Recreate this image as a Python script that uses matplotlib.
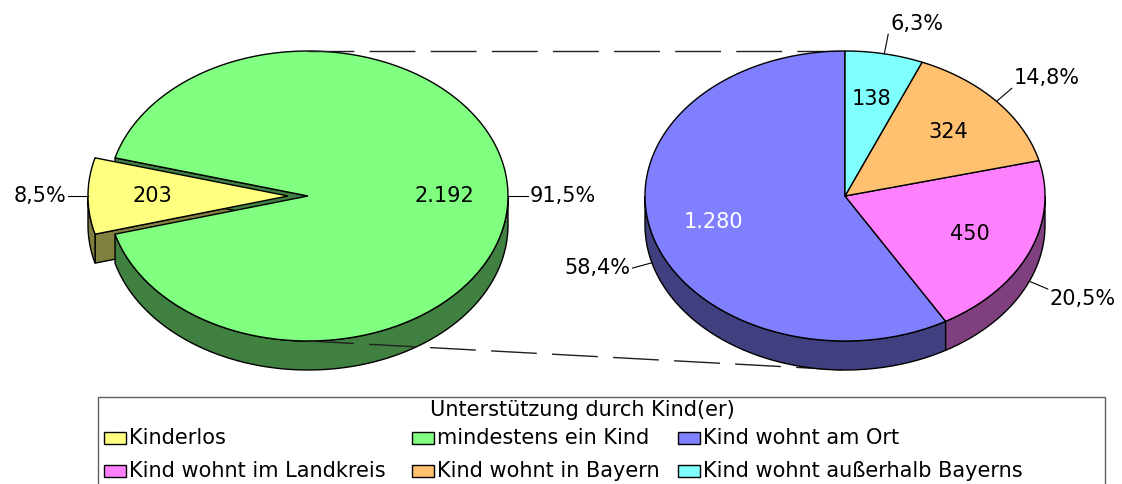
import numpy as np
import matplotlib
matplotlib.use('Agg')
import matplotlib.pyplot as plt
from matplotlib.patches import Polygon, Rectangle

# data
left_labels = ['Kinderlos', 'mindestens ein Kind']
left_values = [203, 2192]
right_labels = ['Kind wohnt am Ort', 'Kind wohnt im Landkreis',
                'Kind wohnt in Bayern', 'Kind wohnt außerhalb Bayerns']
right_values = [1280, 450, 324, 138]
legend_title = 'Unterstützung durch Kind(er)'

left_colors = ['#FFFF80', '#80FF80']
left_sides = ['#808040', '#408040']
right_colors = ['#8080FF', '#FF80FF', '#FFC070', '#80FFFF']
right_sides = ['#404080', '#804080', '#806038', '#408080']
right_text = ['white', 'black', 'black', 'black']

RX, RY, DEPTH = 200, 145, 29
FS = 15
LW = 1.0
plt.rcParams['font.family'] = ['DejaVu Sans']


def ell(cx, cy, t, r=1.0):
    t = np.radians(t)
    return cx + RX * r * np.cos(t), cy - RY * r * np.sin(t)


def fmt_int(v):
    return f'{v:,}'.replace(',', '.')


def fmt_pct(f):
    return f'{100 * f:.1f}%'.replace('.', ',')


def draw_pie(ax, cx, cy, values, start, colors, sides, text_colors,
             explode=None, z=1):
    values = np.asarray(values, dtype=float)
    fracs = values / values.sum()
    if explode is None:
        explode = [0] * len(values)
    bounds = start + 360 * np.concatenate([[0], np.cumsum(fracs)])
    slices = []
    for i in range(len(values)):
        a, b = bounds[i], bounds[i + 1]
        mid = np.radians((a + b) / 2)
        ox = cx + explode[i] * np.cos(mid)
        oy = cy - explode[i] * np.sin(mid) * RY / RX
        slices.append((a, b, ox, oy))

    # radial faces (only visible if exploded)
    if any(explode):
        for i, (a, b, ox, oy) in enumerate(slices):
            for phi, vis in ((a, np.cos(np.radians(a)) > 0),
                             (b, np.cos(np.radians(b)) < 0)):
                if not vis:
                    continue
                px, py = ell(ox, oy, phi)
                pts = [(ox, oy), (px, py), (px, py + DEPTH), (ox, oy + DEPTH)]
                ax.add_patch(Polygon(pts, closed=True, fc=sides[i], ec='black',
                                     lw=LW, zorder=z))
    # outer walls on the front half
    for i, (a, b, ox, oy) in enumerate(slices):
        for k in range(-1, 3):
            lo = max(a, 180 + 360 * k)
            hi = min(b, 360 + 360 * k)
            if lo >= hi:
                continue
            t = np.linspace(lo, hi, 80)
            x, y = ell(ox, oy, t)
            pts = np.column_stack([np.concatenate([x, x[::-1]]),
                                   np.concatenate([y, y[::-1] + DEPTH])])
            ax.add_patch(Polygon(pts, closed=True, fc=sides[i], ec='black',
                                 lw=LW, zorder=z + 1))
    # top faces
    for i, (a, b, ox, oy) in enumerate(slices):
        t = np.linspace(a, b, 200)
        x, y = ell(ox, oy, t)
        pts = np.column_stack([np.concatenate([[ox], x]),
                               np.concatenate([[oy], y])])
        ax.add_patch(Polygon(pts, closed=True, fc=colors[i], ec='black',
                             lw=LW, zorder=z + 2))

    # labels
    for i, (a, b, ox, oy) in enumerate(slices):
        m = (a + b) / 2
        lx, ly = ell(ox, oy, m, 0.68)
        ax.text(lx, ly, fmt_int(int(values[i])), ha='center', va='center',
                fontsize=FS, color=text_colors[i], zorder=z + 3)
        c, s = np.cos(np.radians(m)), np.sin(np.radians(m))
        px, py = ell(ox, oy, m)
        if s < -0.05:
            py += DEPTH
        ex, ey = px + 20 * c, py - 20 * s
        ax.plot([px, ex], [py, ey], color='black', lw=0.8, zorder=z + 3)
        ha = 'left' if c > 0.1 else ('right' if c < -0.1 else 'center')
        va = 'bottom' if s > 0.35 else ('top' if s < -0.35 else 'center')
        ax.text(ex + 2 * np.sign(c), ey, fmt_pct(fracs[i]), ha=ha, va=va,
                fontsize=FS, color='black', zorder=z + 3)


fig = plt.figure(figsize=(11.22, 4.84), dpi=100)
ax = fig.add_axes([0, 0, 1, 1])
ax.set_xlim(0, 1122)
ax.set_ylim(484, 0)
ax.axis('off')

lcx, rcx, cy = 308, 845, 196
lfrac = left_values[0] / sum(left_values)
draw_pie(ax, lcx, cy, left_values, 180 - lfrac * 180, left_colors, left_sides,
         ['black', 'black'], explode=[20, 0], z=1)
draw_pie(ax, rcx, cy, right_values, 90, right_colors, right_sides, right_text,
         z=10)

# connector lines
ax.plot([lcx, rcx], [cy - RY, cy - RY], color='#202020', lw=1.0,
        ls=(0, (33, 11)), zorder=6)
ax.plot([lcx, rcx], [cy + RY, cy + RY + DEPTH], color='#202020', lw=1.0,
        ls=(0, (33, 11)), zorder=6)

# legend
ax.add_patch(Rectangle((98, 397), 1007, 120, fc='white', ec='#606060',
                       lw=1.0, zorder=20))
ax.text(582, 410, legend_title, ha='center', va='center', fontsize=FS,
        zorder=21)
entries = left_labels + right_labels
ecolors = left_colors + right_colors
col_x = [104, 412, 678]
row_y = [438, 471]
for i, (lab, col) in enumerate(zip(entries, ecolors)):
    x0 = col_x[i % 3]
    y0 = row_y[i // 3]
    ax.add_patch(Rectangle((x0, y0 - 6), 22, 12, fc=col, ec='black', lw=1.0,
                           zorder=21))
    ax.text(x0 + 25, y0, lab, ha='left', va='center', fontsize=FS, zorder=21)

fig.savefig('out.png', dpi=100)
